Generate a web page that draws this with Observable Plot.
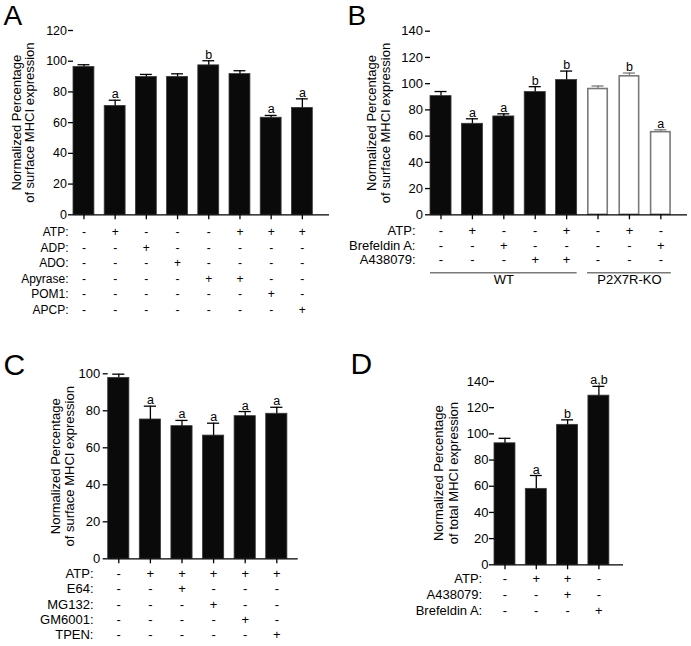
<!DOCTYPE html>
<html><head><meta charset="utf-8">
<script src="https://cdn.jsdelivr.net/npm/d3@7"></script>
<script src="https://cdn.jsdelivr.net/npm/@observablehq/plot@0.6"></script>
<style>
body{margin:0;background:#fff;}
#fig{position:relative;width:691px;height:646px;font-family:"Liberation Sans",Arial,Helvetica,sans-serif;}
#fig > div{position:absolute;}
</style></head><body><div id="fig"></div>
<script>
// ---------- Panel A ----------
const aCats = ["1","2","3","4","5","6","7","8"];
const aMean = [96.2, 70.9, 89.7, 89.8, 97.3, 91.6, 63.2, 69.6];
const aSem  = [1.5, 3.7, 1.7, 2.0, 3.0, 2.2, 1.5, 5.9];
const aSig  = ["", "a", "", "", "b", "", "a", "a"];
const aRowNames = ["ATP:", "ADP:", "ADO:", "Apyrase:", "POM1:", "APCP:"];
const aRows = [
  ["-","+","-","-","-","+","+","+"],
  ["-","-","+","-","-","-","-","-"],
  ["-","-","-","+","-","-","-","-"],
  ["-","-","-","-","+","+","-","-"],
  ["-","-","-","-","-","-","+","-"],
  ["-","-","-","-","-","-","-","+"]
];
// ---------- Panel B ----------
const bCats = ["1","2","3","4","5","6","7","8"];
const bMean = [90.5, 69.4, 75.0, 93.6, 102.8, 95.9, 105.6, 63.0];
const bSem  = [3.5, 3.8, 2.0, 4.1, 6.8, 2.3, 2.5, 1.8];
const bSig  = ["", "a", "a", "b", "b", "", "b", "a"];
const bGenotype = ["WT","WT","WT","WT","WT","P2X7R-KO","P2X7R-KO","P2X7R-KO"];
const bRowNames = ["ATP:", "Brefeldin A:", "A438079:"];
const bRows = [
  ["-","+","-","-","+","-","+","-"],
  ["-","-","+","-","-","-","-","+"],
  ["-","-","-","+","+","-","-","-"]
];
// ---------- Panel C ----------
const cCats = ["1","2","3","4","5","6"];
const cMean = [97.8, 75.3, 71.7, 66.6, 77.1, 78.4];
const cSem  = [2.0, 7.2, 3.1, 6.7, 2.5, 3.5];
const cSig  = ["", "a", "a", "a", "a", "a"];
const cRowNames = ["ATP:", "E64:", "MG132:", "GM6001:", "TPEN:"];
const cRows = [
  ["-","+","+","+","+","+"],
  ["-","-","+","-","-","-"],
  ["-","-","-","+","-","-"],
  ["-","-","-","-","+","-"],
  ["-","-","-","-","-","+"]
];
// ---------- Panel D ----------
const dCats = ["1","2","3","4"];
const dMean = [92.8, 58.0, 106.9, 129.2];
const dSem  = [3.8, 10.2, 3.8, 7.1];
const dSig  = ["", "a", "b", "a,b"];
const dRowNames = ["ATP:", "A438079:", "Brefeldin A:"];
const dRows = [
  ["-","+","+","-"],
  ["-","-","+","-"],
  ["-","-","-","+"]
];

const FONT = "Liberation Sans, Arial, Helvetica, sans-serif";
const GRAY = "#7a7a7a";

function panel(o) {
  const data = o.cats.map((c, i) => ({
    c, m: o.mean[i], top: o.mean[i] + o.sem[i], s: o.sig[i],
    open: o.open ? o.open[i] : false
  }));
  const marks = [];
  marks.push(Plot.barY(data.filter(d => !d.open), {x: "c", y: "m", fill: "#0a0a0a", stroke: "#3a3a3a", strokeWidth: 0.8}));
  marks.push(Plot.barY(data.filter(d => d.open), {x: "c", y: "m", fill: "white", stroke: GRAY, strokeWidth: 1.6, insetLeft: 0.8, insetRight: 0.8}));
  marks.push(Plot.ruleX(data, {x: "c", y1: "m", y2: "top", stroke: d => d.open ? GRAY : "black", strokeWidth: 1.3}));
  marks.push(Plot.tickY(data, {x: "c", y: "top", stroke: d => d.open ? GRAY : "black", strokeWidth: 1.3, insetLeft: 4.5, insetRight: 4.5}));
  marks.push(Plot.text(data, {x: "c", y: "top", text: "s", lineAnchor: "bottom", dy: -2, fontSize: 12.5, fill: "black"}));
  marks.push(Plot.ruleY([0], {strokeWidth: 1.3}));
  marks.push(Plot.axisY({ticks: d3.range(0, o.yMax + 1, 20), tickSize: 5, tickPadding: o.tickPad, line: true, label: null, fontSize: o.tickFont, strokeWidth: 1.3}));
  marks.push(Plot.axisX({tickSize: 5, tickFormat: () => "", label: null, strokeWidth: 1.3}));
  // y label
  marks.push(Plot.text([o.yLabel], {frameAnchor: "left", rotate: -90, dx: o.labelDx, fontSize: 13, lineHeight: o.labelLH, textAnchor: "middle", lineAnchor: "middle", fill: "black"}));
  // condition table
  o.rows.forEach((row, r) => {
    marks.push(Plot.text(o.cats, {x: d => d, text: (d, i) => row[i], frameAnchor: "bottom", dy: o.rowDy[r], fontSize: o.rowFont, fill: "black"}));
    marks.push(Plot.text([o.rowNames[r]], {frameAnchor: "bottom-left", textAnchor: "end", dx: o.rowDx, dy: o.rowDy[r], fontSize: o.rowFont, fill: "black"}));
  });
  if (o.groups) {
    o.groups.forEach(g => {
      marks.push(Plot.ruleY([g], {x1: "from", x2: "to", y: 0, dy: o.groupLineDy, stroke: GRAY, strokeWidth: 1.5}));
      marks.push(Plot.text([g], {x: "mid", text: "name", frameAnchor: "bottom", dy: o.groupTextDy, fontSize: o.rowFont, fill: "black"}));
    });
  }
  // panel letter
  marks.push(Plot.text([o.letter], {frameAnchor: "top-left", textAnchor: "start", lineAnchor: "top", dx: o.letterX - o.mL, dy: o.letterY - o.mT, fontSize: o.letterSize, fill: "black"}));

  const svg = Plot.plot({
    width: o.W, height: o.H,
    marginLeft: o.mL, marginRight: o.mR, marginTop: o.mT, marginBottom: o.mB,
    style: {fontFamily: FONT, fontSize: "12px", color: "black", background: "transparent", overflow: "visible"},
    x: {type: "band", domain: o.cats, range: o.range, round: false, paddingInner: 0.33, paddingOuter: 0.16, align: 0, axis: null},
    y: {domain: [0, o.yMax], axis: null},
    marks
  });
  const div = document.createElement("div");
  div.style.left = o.left + "px";
  div.style.top = o.top + "px";
  div.appendChild(svg);
  document.getElementById("fig").appendChild(div);
}

// Panel A
panel({
  letter: "A", cats: aCats, mean: aMean, sem: aSem, sig: aSig,
  rows: aRows, rowNames: aRowNames, yMax: 120,
  yLabel: "Normalized Percentage\nof surface MHCI expression",
  left: 0, top: 0, W: 345, H: 330, mL: 73, mR: 16, mT: 30, mB: 115.7,
  range: [73, 322.3], tickFont: 12.5, tickPad: 1.5, labelDx: -50, labelLH: 0.95,
  rowDy: [21.5, 37, 52.5, 68, 83.5, 99], rowDx: -5, rowFont: 12,
  letterX: 3, letterY: 5, letterSize: 28
});
// Panel B
panel({
  letter: "B", cats: bCats, mean: bMean, sem: bSem, sig: bSig,
  open: bGenotype.map(g => g !== "WT"),
  rows: bRows, rowNames: bRowNames, yMax: 140,
  yLabel: "Normalized Percentage\nof surface MHCI expression",
  left: 345, top: 0, W: 346, H: 330, mL: 85, mR: 4, mT: 30.7, mB: 115.7,
  range: [85, 335.9], tickFont: 13, tickPad: 2.5, labelDx: -52, labelLH: 1.08,
  rowDy: [20.5, 35, 49.5], rowDx: -15, rowFont: 13,
  groups: [
    {from: "1", to: "5", mid: "3", name: "WT"},
    {from: "6", to: "8", mid: "7", name: "P2X7R-KO"}
  ],
  groupLineDy: 58, groupTextDy: 69,
  letterX: 2, letterY: 5, letterSize: 28
});
// Panel C
panel({
  letter: "C", cats: cCats, mean: cMean, sem: cSem, sig: cSig,
  rows: cRows, rowNames: cRowNames, yMax: 100,
  yLabel: "Normalized Percentage\nof surface MHCI expression",
  left: 0, top: 330, W: 345, H: 316, mL: 107.7, mR: 47.3, mT: 43.3, mB: 87.7,
  range: [107.7, 297], tickFont: 13, tickPad: 3, labelDx: -46, labelLH: 1.08,
  rowDy: [19, 34.4, 49.8, 65.2, 80.6], rowDx: -14.7, rowFont: 13,
  letterX: 3, letterY: 22.7, letterSize: 30
});
// Panel D
panel({
  letter: "D", cats: dCats, mean: dMean, sem: dSem, sig: dSig,
  rows: dRows, rowNames: dRowNames, yMax: 140,
  yLabel: "Normalized Percentage\nof total MHCI expression",
  left: 345, top: 330, W: 346, H: 316, mL: 149, mR: 68, mT: 51, mB: 81.7,
  range: [149, 273.9], tickFont: 13, tickPad: 1, labelDx: -48.5, labelLH: 1.12,
  rowDy: [18, 33.8, 50.5], rowDx: -12.3, rowFont: 13,
  letterX: 5, letterY: 21.7, letterSize: 30
});
</script>
</body></html>
